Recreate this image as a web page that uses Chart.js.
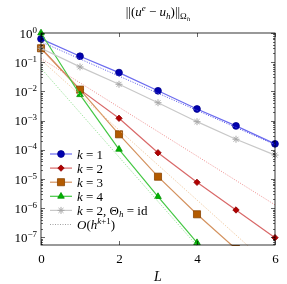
<!DOCTYPE html>
<html>
<head>
<meta charset="utf-8">
<script src="https://cdn.jsdelivr.net/npm/chart.js@4"></script>
<style>
    html, body { margin: 0; padding: 0; background: #fff; }
    #errorChart { display: block; }
</style>
</head>
<body>
<canvas id="errorChart" width="287" height="284"></canvas>
<script>
// Data
const levels = [0, 1, 2, 3, 4, 5, 6];
const errK1 = [0.63, 0.16, 0.044, 0.0105, 0.0025, 6.6e-4, 1.6e-4];
const errK2 = [0.3, 0.0115, 1.2e-3, 7.9e-5, 7.7e-6, 8.7e-7, 9.8e-8];
const errK3 = [0.3, 0.0115, 3.4e-4, 1.2e-5, 6.2e-7, 4e-8];
const errK4 = [1.0, 7.7e-3, 1.04e-4, 2.5e-6, 6.6e-8];
const errK2Id = [0.3, 0.069, 0.0175, 4.1e-3, 9.2e-4, 2.3e-4, 6.6e-5];

// O(h^{k+1}) guide lines, values at L = 0 and L = 6
const refLevels = [0, 6];
const refK1 = [0.5, 1.5e-4];
const refK2 = [0.135, 1.3e-6];
const refK3 = [0.12, 7.6e-9];
const refK4 = [0.062, 4.7e-11];

const xTicks = [0, 2, 4, 6];
const yExponents = [0, -1, -2, -3, -4, -5, -6, -7];

const FONT = '"Liberation Serif", "DejaVu Serif", serif';

function pts(xs, ys) {
    return ys.map((v, i) => ({ x: xs[i], y: v }));
}

function fontOf(s) {
    return (s.i ? 'italic ' : '') + (s.size || 13) + 'px ' + FONT;
}

function drawRich(ctx, segs, x, y, align) {
    let w = 0;
    segs.forEach(s => { ctx.font = fontOf(s); w += ctx.measureText(s.t).width; });
    let cx = align === 'center' ? x - w / 2 : (align === 'right' ? x - w : x);
    ctx.textAlign = 'left';
    ctx.textBaseline = 'alphabetic';
    segs.forEach(s => {
        ctx.font = fontOf(s);
        ctx.fillText(s.t, cx, y + (s.dy || 0));
        cx += ctx.measureText(s.t).width;
    });
}

const series = [
    { label: [{ t: 'k', i: 1 }, { t: ' = 1' }], data: pts(levels, errK1), line: '#6b6bef', fill: '#0000b0', border: '#00008a', style: 'circle', r: 3.4 },
    { label: [{ t: 'k', i: 1 }, { t: ' = 2' }], data: pts(levels, errK2), line: '#d96868', fill: '#b00000', border: '#900000', style: 'rectRot', r: 3.2 },
    { label: [{ t: 'k', i: 1 }, { t: ' = 3' }], data: pts(levels, errK3), line: '#d4925e', fill: '#b35a00', border: '#8a4400', style: 'rect', r: 5 },
    { label: [{ t: 'k', i: 1 }, { t: ' = 4' }], data: pts(levels, errK4), line: '#44c844', fill: '#00b400', border: '#009000', style: 'triangle', r: 3.8 },
    { label: [{ t: 'k', i: 1 }, { t: ' = 2, Θ' }, { t: 'h', i: 1, size: 9, dy: 2.5 }, { t: ' = id' }], data: pts(levels, errK2Id), line: '#c8c8c8', fill: '#a8a8a8', border: '#a8a8a8', style: 'star', r: 3.5 },
    { label: [{ t: 'O', i: 1 }, { t: '(' }, { t: 'h', i: 1 }, { t: 'k', i: 1, size: 9, dy: -5 }, { t: '+1', size: 9, dy: -5 }, { t: ')' }], data: null, line: '#a0a0a0', dotted: true }
];

const guides = [
    { data: pts(refLevels, refK1), color: '#5a5ae8' },
    { data: pts(refLevels, refK2), color: '#f09090' },
    { data: pts(refLevels, refK3), color: '#f0c496' },
    { data: pts(refLevels, refK4), color: '#8ee08e' }
];

const datasets = [];
series.forEach(s => {
    if (!s.data) return;
    datasets.push({
        data: s.data,
        borderColor: s.line,
        borderWidth: 1.2,
        backgroundColor: s.fill,
        pointBackgroundColor: s.fill,
        pointBorderColor: s.border,
        pointBorderWidth: s.style === 'star' ? 1 : 0.8,
        pointStyle: s.style,
        pointRadius: s.r,
        fill: false,
        tension: 0
    });
});
guides.forEach(g => {
    datasets.push({
        data: g.data,
        borderColor: g.color,
        borderWidth: 1,
        borderDash: [1, 1.5],
        pointRadius: 0,
        fill: false,
        tension: 0
    });
});
// later datasets on top
datasets.forEach((d, i) => {
    d.order = -i;
    d.clip = { left: 6, top: 6, right: 6, bottom: 1 };
});

const decorPlugin = {
    id: 'decor',
    beforeDraw(chart) {
        const ctx = chart.ctx;
        ctx.save();
        ctx.fillStyle = '#fff';
        ctx.fillRect(0, 0, chart.width, chart.height);
        ctx.restore();
    },
    afterDraw(chart) {
        const ctx = chart.ctx;
        const a = chart.chartArea;
        const xs = chart.scales.x, ys = chart.scales.y;
        ctx.save();

        // legend
        const ly0 = 154, step = 14.1;
        series.forEach((s, i) => {
            const y = ly0 + i * step;
            ctx.save();
            ctx.strokeStyle = s.line;
            ctx.lineWidth = s.dotted ? 1 : 1.2;
            ctx.setLineDash(s.dotted ? [1, 1.5] : []);
            ctx.beginPath();
            ctx.moveTo(50, y);
            ctx.lineTo(72, y);
            ctx.stroke();
            ctx.setLineDash([]);
            if (!s.dotted) {
                ctx.fillStyle = s.fill;
                ctx.strokeStyle = s.border;
                ctx.lineWidth = s.style === 'star' ? 1 : 0.8;
                Chart.helpers.drawPoint(ctx, { pointStyle: s.style, radius: s.r, rotation: 0, borderWidth: ctx.lineWidth }, 61, y);
            }
            ctx.restore();
            ctx.fillStyle = '#000';
            drawRich(ctx, s.label, 77, y + 4.5, 'left');
        });

        // frame
        ctx.strokeStyle = '#000';
        ctx.lineWidth = 0.8;
        ctx.strokeRect(a.left, a.top, a.right - a.left, a.bottom - a.top);

        // x ticks
        ctx.lineWidth = 0.6;
        xTicks.forEach(v => {
            const px = Math.round(xs.getPixelForValue(v)) + 0.5;
            ctx.beginPath();
            ctx.moveTo(px, a.bottom); ctx.lineTo(px, a.bottom - 4);
            ctx.moveTo(px, a.top); ctx.lineTo(px, a.top + 4);
            ctx.stroke();
            ctx.fillStyle = '#000';
            drawRich(ctx, [{ t: String(v) }], px, 263, 'center');
        });

        // y ticks, major and minor
        for (let e = -8; e <= 0; e++) {
            for (let m = 1; m <= 9; m++) {
                const v = m * Math.pow(10, e);
                if (v < ys.min || v > ys.max * 1.001) continue;
                const py = Math.round(ys.getPixelForValue(v)) + 0.5;
                const len = m === 1 ? 4 : 2;
                ctx.beginPath();
                ctx.moveTo(a.left, py); ctx.lineTo(a.left + len, py);
                ctx.moveTo(a.right, py); ctx.lineTo(a.right - len, py);
                ctx.stroke();
            }
        }
        yExponents.forEach(e => {
            const py = ys.getPixelForValue(Math.pow(10, e));
            const ex = e === 0 ? '0' : '−' + String(-e);
            drawRich(ctx, [{ t: '10' }, { t: ex, size: 9, dy: -5 }], 37, py + 4.5, 'right');
        });

        // axis label and title
        drawRich(ctx, [{ t: 'L', i: 1, size: 14 }], (a.left + a.right) / 2, 281, 'center');
        drawRich(ctx, [
            { t: '||(' }, { t: 'u', i: 1 }, { t: 'e', i: 1, size: 9, dy: -5 },
            { t: ' − ' }, { t: 'u', i: 1 }, { t: 'h', i: 1, size: 9, dy: 2.5 },
            { t: ')||' }, { t: 'Ω', size: 9, dy: 3 }, { t: 'h', i: 1, size: 7, dy: 5 }
        ], (a.left + a.right) / 2, 16, 'center');

        ctx.restore();
    }
};

new Chart(document.getElementById('errorChart'), {
    type: 'line',
    data: { datasets: datasets },
    options: {
        responsive: false,
        animation: false,
        devicePixelRatio: 1,
        layout: { padding: { left: 41, right: 12, top: 33, bottom: 39 } },
        scales: {
            x: { type: 'linear', min: 0, max: 6, display: false },
            y: { type: 'logarithmic', min: 5.5e-8, max: 1, display: false }
        },
        plugins: {
            legend: { display: false },
            tooltip: { enabled: false }
        }
    },
    plugins: [decorPlugin]
});
</script>
</body>
</html>
